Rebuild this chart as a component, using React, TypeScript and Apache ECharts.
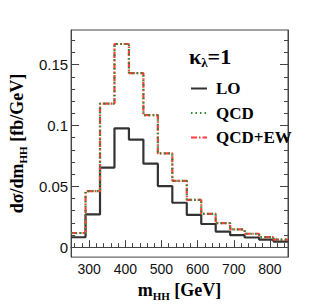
import React, { useEffect, useRef } from "react";
import * as echarts from "echarts";

const binEdges = [250, 290, 330, 370, 410, 450, 490, 530, 570, 610, 650, 690, 730, 770, 810, 850];
const loValues = [0.0081, 0.0269, 0.0654, 0.0977, 0.0884, 0.0686, 0.0502, 0.0365, 0.0265, 0.019, 0.0128, 0.0098, 0.0079, 0.0062, 0.0046];
const qcdValues = [0.0116, 0.046, 0.118, 0.167, 0.143, 0.1085, 0.077, 0.0545, 0.0388, 0.0274, 0.0198, 0.0146, 0.011, 0.0083, 0.0062];
const qcdEwValues = [0.0116, 0.046, 0.118, 0.167, 0.143, 0.1085, 0.077, 0.0545, 0.0388, 0.0274, 0.0198, 0.0146, 0.011, 0.0083, 0.0062];
const xMajorTicks = [300, 400, 500, 600, 700, 800];
const xMinorTicks = [260, 280, 320, 340, 360, 380, 420, 440, 460, 480, 520, 540, 560, 580, 620, 640, 660, 680, 720, 740, 760, 780, 820, 840];
const yMajorTicks = [0, 0.05, 0.1, 0.15];
const yMinorTicks = [0.01, 0.02, 0.03, 0.04, 0.06, 0.07, 0.08, 0.09, 0.11, 0.12, 0.13, 0.14, 0.16, 0.17];

const toSteps = (vals: number[]) =>
  binEdges.map((e, i) => [e, vals[Math.min(i, vals.length - 1)]]);

const SERIF = "'Liberation Serif', 'Times New Roman', serif";
const SANS = "'Liberation Sans', Arial, sans-serif";

export default function App() {
  const ref = useRef<HTMLDivElement>(null);
  useEffect(() => {
    if (!ref.current) return;
    const chart = echarts.init(ref.current, undefined, { renderer: "svg" });
    const frame = "#444";
    const xBase = { type: "value", min: 250, max: 850, splitLine: { show: false } };
    const yBase = { type: "value", min: -0.0082, max: 0.1785, splitLine: { show: false } };
    chart.setOption({
      animation: false,
      grid: { left: 61, right: 33, top: 30, bottom: 47, show: true, borderColor: frame, borderWidth: 1, backgroundColor: "transparent" },
      title: {
        text: "{k|κ}{s|λ}{k|=1}",
        left: 184,
        top: 38,
        textStyle: {
          rich: {
            k: { fontFamily: SERIF, fontWeight: "bold", fontSize: 22, color: "#000", lineHeight: 26 },
            s: { fontFamily: SERIF, fontWeight: "bold", fontSize: 13, color: "#000", lineHeight: 26, verticalAlign: "bottom" },
          },
        },
      },
      legend: {
        data: ["LO", "QCD", "QCD+EW"],
        orient: "vertical",
        left: 185,
        top: 75,
        itemWidth: 16,
        itemHeight: 10,
        itemGap: 7.5,
        itemStyle: { opacity: 0 },
        textStyle: { fontFamily: SERIF, fontWeight: "bold", fontSize: 17, color: "#000", padding: [0, 0, 0, 4] },
      },
      xAxis: [
        {
          ...xBase,
          position: "bottom",
          axisLine: { show: true, lineStyle: { color: frame, width: 1 } },
          axisTick: { show: true, inside: true, length: 7, customValues: xMajorTicks, lineStyle: { color: frame } },
          axisLabel: { show: true, customValues: xMajorTicks, fontFamily: SANS, fontSize: 14, color: "#111", margin: 5 },
          name: "{a|m}{s|HH}{a| [GeV]}",
          nameLocation: "middle",
          nameGap: 21,
          nameTextStyle: {
            rich: {
              a: { fontFamily: SERIF, fontWeight: "bold", fontSize: 18, color: "#000", lineHeight: 22 },
              s: { fontFamily: SERIF, fontWeight: "bold", fontSize: 11, color: "#000", lineHeight: 22, verticalAlign: "bottom" },
            },
          },
        },
        {
          ...xBase,
          position: "bottom",
          axisLine: { show: false },
          axisTick: { show: true, inside: true, length: 4, customValues: xMinorTicks, lineStyle: { color: frame } },
          axisLabel: { show: false },
        },
      ],
      yAxis: [
        {
          ...yBase,
          position: "left",
          axisLine: { show: true, lineStyle: { color: frame, width: 1 } },
          axisTick: { show: true, inside: true, length: 8, customValues: yMajorTicks, lineStyle: { color: frame } },
          axisLabel: { show: true, customValues: yMajorTicks, fontFamily: SANS, fontSize: 15, color: "#111", margin: 3 },
          name: "{a|dσ/dm}{s|HH}{a| [fb/GeV]}",
          nameLocation: "middle",
          nameRotate: 90,
          nameGap: 38,
          nameTextStyle: {
            rich: {
              a: { fontFamily: SERIF, fontWeight: "bold", fontSize: 18, color: "#000", lineHeight: 22 },
              s: { fontFamily: SERIF, fontWeight: "bold", fontSize: 11, color: "#000", lineHeight: 22, verticalAlign: "bottom" },
            },
          },
        },
        {
          ...yBase,
          position: "left",
          axisLine: { show: false },
          axisTick: { show: true, inside: true, length: 4, customValues: yMinorTicks, lineStyle: { color: frame } },
          axisLabel: { show: false },
        },
        {
          ...yBase,
          position: "right",
          axisLine: { show: true, lineStyle: { color: frame, width: 1 } },
          axisTick: { show: true, inside: true, length: 8, customValues: yMajorTicks, lineStyle: { color: frame } },
          axisLabel: { show: false },
        },
        {
          ...yBase,
          position: "right",
          axisLine: { show: false },
          axisTick: { show: true, inside: true, length: 4, customValues: yMinorTicks, lineStyle: { color: frame } },
          axisLabel: { show: false },
        },
      ],
      series: [
        {
          name: "LO",
          type: "line",
          step: "end",
          symbol: "none",
          xAxisIndex: 0,
          yAxisIndex: 0,
          z: 2,
          data: toSteps(loValues),
          lineStyle: { color: "#333", width: 2.2, type: "solid" },
          itemStyle: { color: "#333" },
        },
        {
          name: "QCD",
          type: "line",
          step: "end",
          symbol: "none",
          xAxisIndex: 0,
          yAxisIndex: 0,
          z: 4,
          data: toSteps(qcdValues),
          lineStyle: { color: "#2e8b2e", width: 2.2, type: [1.5, 3] },
          itemStyle: { color: "#2e8b2e" },
        },
        {
          name: "QCD+EW",
          type: "line",
          step: "end",
          symbol: "none",
          xAxisIndex: 0,
          yAxisIndex: 0,
          z: 3,
          data: toSteps(qcdEwValues),
          lineStyle: { color: "#ff3b3b", width: 2.2, type: [6, 2, 1.5, 2] },
          itemStyle: { color: "#ff3b3b" },
        },
      ],
    });
    return () => chart.dispose();
  }, []);
  return <div ref={ref} style={{ width: 321, height: 306, position: "absolute", left: 0, top: 0 }} />;
}
